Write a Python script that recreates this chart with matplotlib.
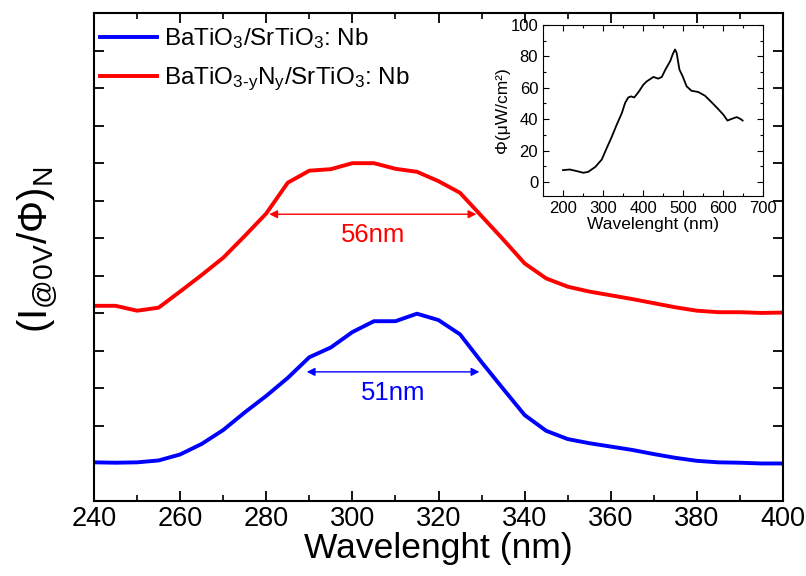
import matplotlib

matplotlib.use("Agg")
import matplotlib.pyplot as plt
from matplotlib.ticker import MultipleLocator

plt.rcParams["font.family"] = ["Liberation Sans", "DejaVu Sans"]
plt.rcParams["mathtext.fontset"] = "custom"
plt.rcParams["mathtext.rm"] = "Liberation Sans"
plt.rcParams["mathtext.it"] = "Liberation Sans:italic"
plt.rcParams["mathtext.default"] = "regular"

# main photocurrent spectra (normalised, arbitrary units)
wavelength = [240, 245, 250, 255, 260, 265, 270, 275, 280, 285, 290, 295, 300, 305, 310,
              315, 320, 325, 330, 335, 340, 345, 350, 355, 360, 365, 370, 375, 380, 385,
              390, 395, 400]
bto = [1.03, 1.02, 1.03, 1.08, 1.24, 1.52, 1.89, 2.36, 2.80, 3.28, 3.83, 4.09, 4.50, 4.79, 4.79,
       4.99, 4.82, 4.44, 3.70, 2.99, 2.29, 1.87, 1.65, 1.54, 1.45, 1.36, 1.25, 1.15, 1.07, 1.03,
       1.02, 1.00, 1.00]
bton = [5.20, 5.20, 5.07, 5.15, 5.58, 6.02, 6.48, 7.06, 7.66, 8.48, 8.80, 8.84, 9.00, 9.00, 8.85,
        8.77, 8.52, 8.21, 7.59, 6.97, 6.33, 5.93, 5.71, 5.58, 5.48, 5.38, 5.27, 5.16, 5.07, 5.03,
        5.03, 5.01, 5.02]

# FWHM markers
red_fwhm = (280.7, 328.8, 7.64)
blue_fwhm = (289.4, 329.5, 3.44)

# inset: lamp photon flux
lamp_wl = [200, 217, 234, 251, 263, 281, 297, 309, 322, 334, 347, 355, 363, 370, 378, 388,
           401, 409, 426, 438, 447, 456, 468, 474, 480, 484, 491, 499, 509, 521, 538, 555,
           572, 588, 601, 611, 622, 634, 643, 649]
lamp_flux = [7.5, 7.9, 6.9, 5.8, 6.4, 9.6, 14.3, 21.4, 28.8, 36.3, 43.8, 50.2, 53.8, 54.5, 53.8,
             57.0, 62.0, 64.0, 66.9, 65.8, 66.9, 71.6, 77.0, 81.2, 84.4, 82.3, 71.6, 67.3, 60.9,
             58.1, 57.3, 54.9, 50.6, 46.4, 42.8, 39.1, 40.2, 41.3, 40.2, 39.1]

fig = plt.figure(figsize=(8.06, 5.76), dpi=100)
ax = fig.add_axes([0.1166, 0.1302, 0.8549, 0.8472])

ax.plot(wavelength, bto, color="#0000ff", lw=2.8, label=r"BaTiO$_3$/SrTiO$_3$: Nb")
ax.plot(wavelength, bton, color="#ff0000", lw=2.8,
        label=r"BaTiO$_{3\text{-}y}$N$_y$/SrTiO$_3$: Nb")

for (x0, x1, y), col, txt in [(red_fwhm, "#ff0000", "56nm"), (blue_fwhm, "#0000ff", "51nm")]:
    ax.annotate("", xy=(x1, y), xytext=(x0, y),
                arrowprops=dict(arrowstyle="<|-|>", color=col, lw=1, mutation_scale=12,
                                shrinkA=0, shrinkB=0))
    ax.text((x0 + x1) / 2, y - 0.56, txt, color=col, fontsize=18.5, ha="center", va="center")

ax.set_xlim(240, 400)
ax.set_ylim(0, 13)
ax.xaxis.set_major_locator(MultipleLocator(20))
ax.xaxis.set_minor_locator(MultipleLocator(10))
ax.yaxis.set_major_locator(MultipleLocator(1))
ax.tick_params(axis="both", which="major", direction="in", length=7, width=1.3,
               top=True, right=True, labelsize=19.5)
ax.tick_params(axis="x", which="minor", direction="in", length=4, width=1.2, top=True)
ax.tick_params(axis="y", labelleft=False)
for s in ax.spines.values():
    s.set_linewidth(1.5)

ax.set_xlabel("Wavelenght (nm)", fontsize=25.5, labelpad=0)
ax.set_ylabel(r"$(\mathrm{I}_{@0V}/\Phi)_N$", fontsize=29)
ax.yaxis.set_label_coords(-0.05, 0.515)

ax.legend(loc="upper left", bbox_to_anchor=(0.0, 0.985), frameon=False, fontsize=17.5,
          handlelength=2.35, handletextpad=0.3, borderpad=0.25, borderaxespad=0.0,
          labelspacing=0.6)

ins = fig.add_axes([0.6737, 0.6597, 0.2730, 0.2969])
ins.plot(lamp_wl, lamp_flux, color="black", lw=1.3)
ins.set_xlim(150, 700)
ins.set_ylim(-9, 100)
ins.xaxis.set_major_locator(MultipleLocator(100))
ins.xaxis.set_minor_locator(MultipleLocator(50))
ins.yaxis.set_major_locator(MultipleLocator(20))
ins.yaxis.set_minor_locator(MultipleLocator(10))
ins.tick_params(which="major", direction="in", length=4, width=0.8, top=True, right=True,
                labelsize=12)
ins.tick_params(which="minor", direction="in", length=2, width=0.8, top=True, right=True)
ins.set_xlabel("Wavelenght (nm)", fontsize=12.5, labelpad=0.5)
ins.set_ylabel("Φ(μW/cm²)", fontsize=12.5, labelpad=0)

fig.savefig("out.png", dpi=100)
